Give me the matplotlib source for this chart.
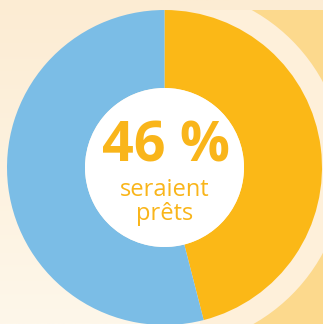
import numpy as np
import matplotlib.pyplot as plt
from matplotlib.patches import Circle, Rectangle

# Data
labels = ['seraient prêts', 'autres']
values = [46, 54]
colors = ['#FBB817', '#7BBDE6']
big_text = '46 %'
sub_text = 'seraient\nprêts'

W, H = 323, 324
fig = plt.figure(figsize=(W / 100, H / 100), dpi=100)
ax = fig.add_axes([0, 0, 1, 1])

# background gradient (cream)
grad = np.linspace(0, 1, 256).reshape(-1, 1)
top = np.array([0xFC, 0xEC, 0xD3]) / 255
bot = np.array([0xFE, 0xF7, 0xEA]) / 255
img = top + (bot - top) * grad[..., None]
ax.imshow(img, extent=(0, W, 0, H), origin='upper', aspect='auto', zorder=0)

# yellow block on the right
block = Rectangle((200, 0), W - 200, H - 10, color='#FCD98D', zorder=1, lw=0)
ax.add_patch(block)

cx, cy = 164.5, H - 167.5
# light ring around the donut, only seen over the yellow block
ring = Circle((cx, cy), 180, color='#FEF0DA', zorder=2, lw=0)
ax.add_patch(ring)
ring.set_clip_path(block)

# donut
ax.pie(values, colors=colors, startangle=90, counterclock=False,
       center=(cx, cy), radius=157.5,
       wedgeprops=dict(width=157.5 - 79.5, linewidth=0))
for w in ax.patches[-2:]:
    w.set_zorder(3)
ax.add_patch(Circle((cx, cy), 79.5, color='white', zorder=4, lw=0))

ax.text(cx + 1, H - 147, big_text, ha='center', va='center', fontsize=40,
        fontweight='bold', family='Open Sans', color='#F9B51A', zorder=5)
ax.text(cx, H - 202, sub_text, ha='center', va='center', fontsize=17,
        family='Open Sans', color='#F9B51A', linespacing=0.95, zorder=5)

ax.set_xlim(0, W)
ax.set_ylim(0, H)
ax.set_aspect('auto')
ax.axis('off')

fig.savefig('out.png', dpi=100)
